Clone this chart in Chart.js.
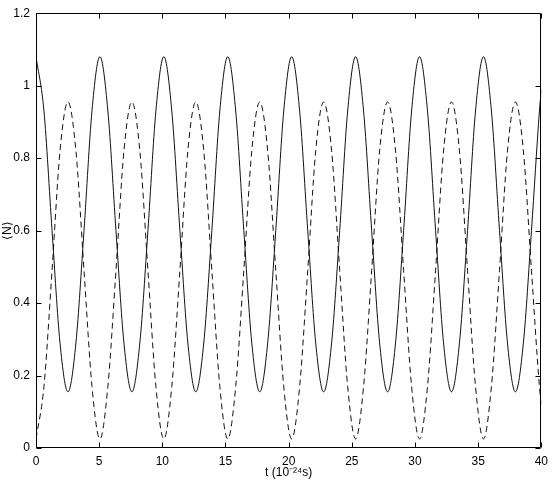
<!DOCTYPE html>
<html>
<head>
<meta charset="utf-8">
<script src="https://cdn.jsdelivr.net/npm/chart.js@4"></script>
<style>
  html, body { margin: 0; padding: 0; background: #fff; }
  canvas { display: block; }
</style>
</head>
<body>
<canvas id="chart" width="554" height="485"></canvas>
<script>
// time axis, in units of 10^-24 s (8 samples per oscillation)
const tValues = [
  0, 0.63, 1.27, 1.90, 2.53, 3.16, 3.80, 4.43,
  5.06, 5.69, 6.33, 6.96, 7.59, 8.22, 8.86, 9.49,
  10.12, 10.75, 11.39, 12.02, 12.65, 13.28, 13.92, 14.55,
  15.18, 15.81, 16.45, 17.08, 17.71, 18.34, 18.98, 19.61,
  20.24, 20.87, 21.51, 22.14, 22.77, 23.40, 24.04, 24.67,
  25.30, 25.93, 26.57, 27.20, 27.83, 28.46, 29.10, 29.73,
  30.36, 30.99, 31.63, 32.26, 32.89, 33.52, 34.16, 34.79,
  35.42, 36.05, 36.69, 37.32, 37.95, 38.58, 39.22, 39.85,
  40
];

// <N>, solid curve
const solidValues = [
  1.08, 0.93, 0.60, 0.29, 0.155, 0.29, 0.60, 0.93,
  1.08, 0.93, 0.60, 0.29, 0.155, 0.29, 0.60, 0.93,
  1.08, 0.93, 0.60, 0.29, 0.155, 0.29, 0.60, 0.93,
  1.08, 0.93, 0.60, 0.29, 0.155, 0.29, 0.60, 0.93,
  1.08, 0.93, 0.60, 0.29, 0.155, 0.29, 0.60, 0.93,
  1.08, 0.93, 0.60, 0.29, 0.155, 0.29, 0.60, 0.93,
  1.08, 0.93, 0.60, 0.29, 0.155, 0.29, 0.60, 0.93,
  1.08, 0.93, 0.60, 0.29, 0.155, 0.29, 0.60, 0.93,
  0.99
];

// <N>, dashed curve
const dashedValues = [
  0.025, 0.17, 0.49, 0.82, 0.955, 0.82, 0.49, 0.17,
  0.025, 0.17, 0.49, 0.82, 0.955, 0.82, 0.49, 0.17,
  0.025, 0.17, 0.49, 0.82, 0.955, 0.82, 0.49, 0.17,
  0.025, 0.17, 0.49, 0.82, 0.955, 0.82, 0.49, 0.17,
  0.025, 0.17, 0.49, 0.82, 0.955, 0.82, 0.49, 0.17,
  0.025, 0.17, 0.49, 0.82, 0.955, 0.82, 0.49, 0.17,
  0.025, 0.17, 0.49, 0.82, 0.955, 0.82, 0.49, 0.17,
  0.025, 0.17, 0.49, 0.82, 0.955, 0.82, 0.49, 0.17,
  0.12
];

const xTicks = [0, 5, 10, 15, 20, 25, 30, 35, 40];
const yTicks = [0, 0.2, 0.4, 0.6, 0.8, 1, 1.2];

const font = { family: '"Liberation Sans", Arial, Helvetica, sans-serif', size: 12 };

// matlab style box with inward ticks on all four sides
const boxTicks = {
  id: 'boxTicks',
  afterDraw(chart) {
    const { ctx, chartArea: a, scales: { x, y } } = chart;
    const len = 5;
    const l = Math.round(a.left) + 0.5;
    const r = Math.round(a.right) - 0.5;
    const t = Math.round(a.top) + 0.5;
    const b = Math.round(a.bottom) - 0.5;
    ctx.save();
    ctx.strokeStyle = '#000';
    ctx.lineWidth = 1;
    ctx.beginPath();
    ctx.rect(l, t, r - l, b - t);
    xTicks.forEach((v) => {
      const px = Math.round(x.getPixelForValue(v)) + 0.5;
      ctx.moveTo(px, b); ctx.lineTo(px, b - len);
      ctx.moveTo(px, t); ctx.lineTo(px, t + len);
    });
    yTicks.forEach((v) => {
      const py = Math.round(y.getPixelForValue(v)) + 0.5;
      ctx.moveTo(l, py); ctx.lineTo(l + len, py);
      ctx.moveTo(r, py); ctx.lineTo(r - len, py);
    });
    ctx.stroke();
    ctx.restore();
  },
};

const ctx = document.getElementById('chart').getContext('2d');

new Chart(ctx, {
  type: 'line',
  data: {
    datasets: [
      {
        label: 'solid',
        data: tValues.map((t, i) => ({ x: t, y: solidValues[i] })),
        borderColor: '#111',
        borderWidth: 1,
        pointRadius: 0,
        cubicInterpolationMode: 'monotone',
        fill: false,
      },
      {
        label: 'dashed',
        data: tValues.map((t, i) => ({ x: t, y: dashedValues[i] })),
        borderColor: '#111',
        borderWidth: 1,
        borderDash: [6, 4],
        pointRadius: 0,
        cubicInterpolationMode: 'monotone',
        fill: false,
      },
    ],
  },
  options: {
    responsive: false,
    animation: false,
    devicePixelRatio: 1,
    layout: { padding: { left: 0, top: 11, right: 11, bottom: 0 } },
    plugins: {
      legend: { display: false },
      tooltip: { enabled: false },
    },
    scales: {
      x: {
        type: 'linear',
        min: 0,
        max: 40,
        afterBuildTicks: (scale) => { scale.ticks = xTicks.map((v) => ({ value: v })); },
        afterFit: (scale) => { scale.height = 37; },
        grid: { display: false, drawTicks: false },
        border: { display: false },
        ticks: { color: '#000', font: font, padding: 6, maxRotation: 0, callback: (v) => String(v) },
        title: {
          display: true,
          text: 't (10\u207B\u00B2\u2074s)',
          color: '#000',
          font: font,
          padding: { top: 0, bottom: 5 },
        },
      },
      y: {
        min: 0,
        max: 1.2,
        afterBuildTicks: (scale) => { scale.ticks = yTicks.map((v) => ({ value: v })); },
        afterFit: (scale) => { scale.width = 36; },
        grid: { display: false, drawTicks: false },
        border: { display: false },
        ticks: { color: '#000', font: font, padding: 6, callback: (v) => String(v) },
        title: {
          display: true,
          text: '\u27E8N\u27E9',
          color: '#000',
          font: font,
          padding: { top: 0, bottom: 0 },
        },
      },
    },
  },
  plugins: [boxTicks],
});
</script>
</body>
</html>
